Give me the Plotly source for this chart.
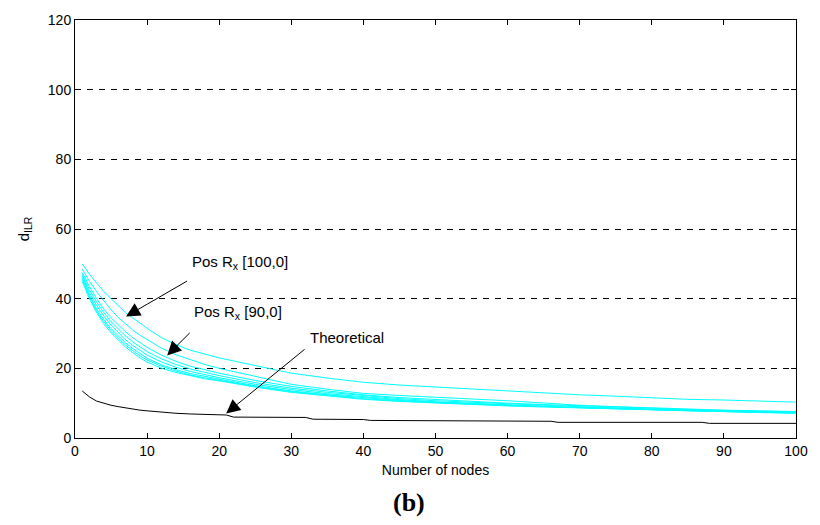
import plotly.graph_objects as go

# ---- data ----
nodes = [1, 2, 3, 4, 5, 6, 7, 8, 9, 10, 12, 14, 16, 18, 20, 25, 30, 35, 40, 45,
         50, 55, 60, 65, 70, 75, 80, 85, 90, 95, 100]

pos_100 = [50, 47, 44.5, 42, 40, 38, 36, 34.5, 33, 31.5, 28.8, 26.8, 25.2, 24, 23,
           20.8, 18.6, 17.2, 16, 15.2, 14.6, 14, 13.4, 12.9, 12.4, 12, 11.5, 11.1, 10.9, 10.6, 10.3]
pos_90 = [48.5, 45, 42, 39.3, 36.8, 34.6, 32.7, 31, 29.5, 28.2, 25.8, 23.9, 22.4, 21.1, 20,
          17.6, 15.4, 14, 12.8, 12.2, 11.8, 11.2, 10.7, 10.0, 9.4, 9.0, 8.6, 8.3, 8.0, 7.8, 7.6]
sim_1 = [47.5, 43.5, 40, 37, 34.5, 32.4, 30.5, 28.8, 27.3, 26, 23.8, 22, 20.6, 19.5, 18.6,
         16.5, 14.8, 13.5, 12.4, 11.6, 11.0, 10.5, 10.0, 9.6, 9.2, 8.8, 8.5, 8.2, 7.9, 7.7, 7.5]
sim_2 = [47, 42.6, 39, 36, 33.4, 31.2, 29.3, 27.6, 26.1, 24.8, 22.7, 21.1, 19.8, 18.8, 17.9,
         15.9, 14.3, 13.1, 12.1, 11.3, 10.7, 10.2, 9.8, 9.4, 9.0, 8.6, 8.3, 8.0, 7.8, 7.6, 7.4]
sim_3 = [46.5, 41.8, 38, 35, 32.4, 30.2, 28.2, 26.6, 25.1, 23.8, 21.8, 20.3, 19.1, 18.1, 17.3,
         15.4, 13.9, 12.7, 11.8, 11.0, 10.4, 9.9, 9.5, 9.1, 8.8, 8.4, 8.1, 7.8, 7.6, 7.4, 7.2]
sim_4 = [46, 41, 37, 34, 31.4, 29.2, 27.3, 25.7, 24.2, 22.9, 21, 19.6, 18.5, 17.6, 16.9,
         15.0, 13.5, 12.4, 11.5, 10.8, 10.2, 9.8, 9.3, 9.0, 8.7, 8.4, 8.1, 7.8, 7.6, 7.4, 7.2]
sim_5 = [45.5, 40.5, 36.5, 33.4, 30.8, 28.6, 26.7, 25.1, 23.6, 22.4, 20.6, 19.2, 18.1, 17.3, 16.6,
         14.8, 13.3, 12.2, 11.3, 10.6, 10.1, 9.7, 9.3, 9.0, 8.7, 8.4, 8.1, 7.8, 7.6, 7.4, 7.2]
sim_6 = [45, 40, 36, 32.8, 30.2, 28, 26.1, 24.5, 23, 21.8, 20, 18.8, 17.8, 17, 16.4,
         14.6, 13.1, 12, 11.1, 10.5, 10.0, 9.6, 9.2, 8.9, 8.6, 8.3, 8.0, 7.7, 7.5, 7.3, 7.1]

theo_x = [1, 2, 3, 4, 5, 6, 7, 8, 9, 10, 12, 14, 16, 18, 21, 22, 32, 33, 40, 41, 51, 52,
          66, 67, 87, 88, 100]
theo_y = [13.5, 11.8, 10.6, 9.9, 9.4, 9.0, 8.6, 8.3, 8.0, 7.8, 7.4, 7.1, 6.9, 6.7, 6.6, 6.0,
          5.9, 5.4, 5.3, 5.05, 5.0, 4.8, 4.8, 4.5, 4.5, 4.2, 4.2]

x_ticks = [0, 10, 20, 30, 40, 50, 60, 70, 80, 90, 100]
y_ticks = [0, 20, 40, 60, 80, 100, 120]

FONT = "Liberation Sans, Arial, sans-serif"

fig = go.Figure()
for s in [pos_100, pos_90, sim_1, sim_2, sim_3, sim_4, sim_5, sim_6]:
    fig.add_trace(go.Scatter(x=nodes, y=s, mode="lines",
                             line=dict(color="#00FFFF", width=1), showlegend=False))
fig.add_trace(go.Scatter(x=theo_x, y=theo_y, mode="lines",
                         line=dict(color="black", width=1), showlegend=False))

# arrows
arrows = [((7.08, 34.9), (15.75, 45.3)),
          ((12.78, 23.7), (16.12, 30.6)),
          ((20.96, 7.06), (32.05, 25.8))]
for (tx, ty), (ax, ay) in arrows:
    fig.add_annotation(x=tx, y=ty, ax=ax, ay=ay, xref="x", yref="y", axref="x", ayref="y",
                       text="", showarrow=True, arrowhead=2, arrowsize=2.8, arrowwidth=1,
                       arrowcolor="black")

labels = [(16.0, 50.3, "Pos R<sub>x</sub> [100,0]"),
          (16.16, 36.0, "Pos R<sub>x</sub> [90,0]"),
          (32.3, 28.9, "Theoretical")]
for x, y, t in labels:
    fig.add_annotation(x=x, y=y, xref="x", yref="y", text=t, showarrow=False,
                       xanchor="left", yanchor="middle",
                       font=dict(family=FONT, size=15, color="black"))

fig.add_annotation(x=0.463, y=-0.155, xref="paper", yref="paper", yanchor="middle",
                   text="<b>(b)</b>", showarrow=False,
                   font=dict(family="Liberation Serif, Times New Roman, serif", size=26, color="black"))

axis_common = dict(showline=True, linecolor="black", linewidth=1, mirror="ticks",
                   ticks="inside", ticklen=5, tickcolor="black", zeroline=False,
                   tickfont=dict(family=FONT, size=14, color="black"))

fig.update_xaxes(range=[0, 100], tickvals=x_ticks, showgrid=False,
                 title=dict(text="Number of nodes", standoff=7,
                            font=dict(family=FONT, size=14, color="black")),
                 **axis_common)
fig.update_yaxes(range=[0, 120], tickvals=y_ticks, showgrid=True, gridcolor="black",
                 gridwidth=1, griddash="6px,6px",
                 title=dict(text="d<sub>ILR</sub>", standoff=14,
                            font=dict(family=FONT, size=15, color="black")),
                 **axis_common)

fig.update_layout(width=820, height=525, margin=dict(l=75, r=15, t=17, b=87),
                  plot_bgcolor="white", paper_bgcolor="white")

fig.write_html("out.html")
